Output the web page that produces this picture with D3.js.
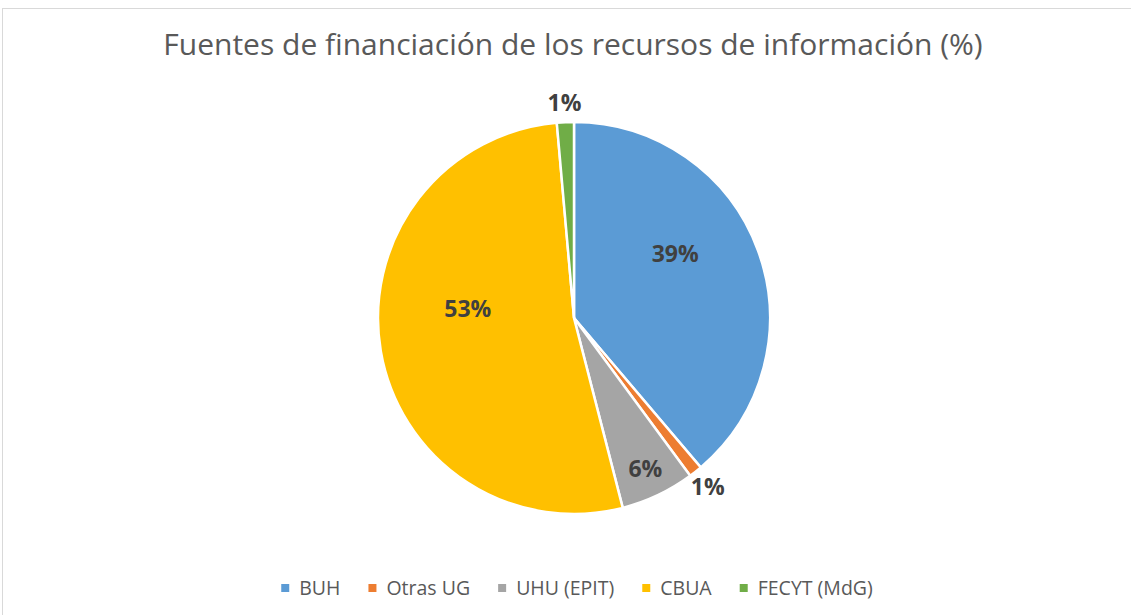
<!DOCTYPE html>
<html>
<head>
<meta charset="utf-8">
<script src="https://cdn.jsdelivr.net/npm/d3@7"></script>
<style>
body{margin:0;background:#fff;}
svg text{font-family:"Open Sans","Noto Sans",sans-serif;}
</style>
</head>
<body>
<script>
const svg_width = 1131, svg_height = 615;
// data
var categories = ["BUH","Otras UG","UHU (EPIT)","CBUA","FECYT (MdG)"];
var values = [38.8,1.1,6.1,52.6,1.4];
var labels = ["39%","1%","6%","53%","1%"];
var colors = ["#5B9BD5","#ED7D31","#A5A5A5","#FFC000","#70AD47"];

var svgContainer = d3.select("body")
.append("svg")
.attr("width",svg_width)
.attr("height",svg_height);

// chart frame
svgContainer.append("rect")
.attr("x",2.5).attr("y",8.5)
.attr("width",1140).attr("height",620)
.attr("fill","none").attr("stroke","#d9d9d9");

svgContainer.append("text")
.attr("x",573).attr("y",55)
.attr("text-anchor","middle")
.style("font-size","30px")
.style("fill","#595959")
.text("Fuentes de financiación de los recursos de información (%)");

const cx = 574, cy = 318, radius = 196;
var pie = d3.pie().sort(null).value(function(d){return d.v});
var pieData = pie(categories.map(function(c,i){return {name:c,v:values[i],label:labels[i],color:colors[i]}}));
var arc = d3.arc().innerRadius(0).outerRadius(radius);

var pieGroup = svgContainer.append("g").attr("transform","translate("+cx+","+cy+")");
pieGroup.selectAll("path")
.data(pieData)
.enter()
.append("path")
.attr("d",arc)
.attr("fill",function(d){return d.data.color})
.attr("stroke","#fff")
.attr("stroke-width",2.5);

// label placement: big slices inside (raised a bit), medium near edge, tiny ones outside
var inArc = d3.arc().innerRadius(radius*0.55).outerRadius(radius*0.55);
var midArc = d3.arc().innerRadius(radius*0.85).outerRadius(radius*0.85);
var outArc = d3.arc().innerRadius(radius*1.1).outerRadius(radius*1.1);
pieGroup.selectAll("text.lbl")
.data(pieData)
.enter()
.append("text")
.attr("class","lbl")
.attr("transform",function(d){
	var p;
	if (d.data.v < 2) p = outArc.centroid(d);
	else if (d.data.v < 10) p = midArc.centroid(d);
	else { p = inArc.centroid(d); p[1] -= 27; }
	return "translate("+p+")";
})
.attr("text-anchor","middle")
.attr("dy","0.36em")
.style("font-size","23px")
.style("font-weight","bold")
.style("fill","#404040")
.text(function(d){return d.data.label});

// legend
var legendItems = [];
var legendGroup = svgContainer.append("g");
categories.forEach(function(c,i){
	var g = legendGroup.append("g");
	g.append("rect").attr("x",0).attr("y",-4).attr("width",8).attr("height",8).attr("fill",colors[i]);
	var t = g.append("text").attr("x",18).attr("y",0).attr("dy","0.36em")
	.style("font-size","19.5px").style("fill","#595959").text(c);
	var w = 18 + t.node().getComputedTextLength();
	legendItems.push({g:g,w:w});
});
var gap = 28;
var total = d3.sum(legendItems,function(d){return d.w}) + gap*(legendItems.length-1);
var x0 = 577 - total/2;
legendItems.forEach(function(it){
	it.g.attr("transform","translate("+x0+",588)");
	x0 += it.w + gap;
});
</script>
</body>
</html>
